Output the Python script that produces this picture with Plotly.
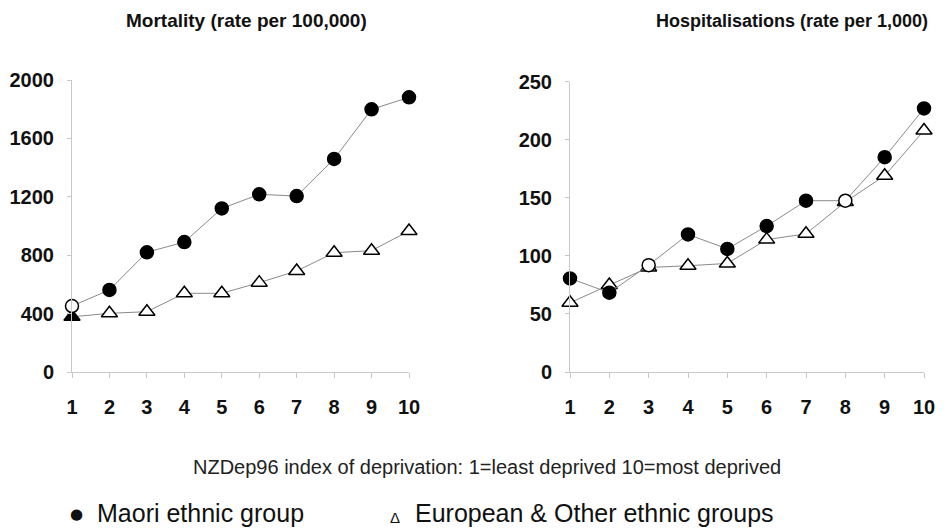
import plotly.graph_objects as go

deciles = [1, 2, 3, 4, 5, 6, 7, 8, 9, 10]
mort_maori = [452, 562, 820, 890, 1120, 1217, 1205, 1459, 1799, 1881]
mort_euro = [378, 402, 413, 539, 539, 612, 692, 817, 831, 966]
hosp_maori = [80.6, 68.3, 92, 118.5, 106, 125.7, 147.5, 147.5, 185, 227]
hosp_euro = [59.7, 74.9, 90, 91.5, 93.5, 114, 119, 146.5, 169, 208]
left_ticks = [0, 400, 800, 1200, 1600, 2000]
right_ticks = [0, 50, 100, 150, 200, 250]

# the page body has an 8px margin: the figure starts at (8, 8) in the window
OFF = 8
W, H = 947 - OFF, 530 - OFF


def px(sx):
    return (sx - OFF) / W


def py(sy):
    return 1 - (sy - OFF) / H


LINE = dict(color="#8a8a8a", width=1)
AX = "#c8c8c8"
TICKFONT = dict(family="Liberation Sans, Arial", size=20, color="#111", weight="bold")

fig = go.Figure()

# per-point marker styles (open circle / filled triangle where the source shows them)
mort_m_fill = ["white"] + ["black"] * 9
mort_e_fill = ["black"] + ["white"] * 9
hosp_m_fill = ["black", "black", "white", "black", "black", "black", "black", "white", "black", "black"]

fig.add_trace(go.Scatter(x=deciles, y=mort_euro, mode="lines+markers", line=LINE,
                         marker=dict(symbol="triangle-up", size=14, color=mort_e_fill,
                                     line=dict(color="black", width=1.5)),
                         cliponaxis=False, xaxis="x", yaxis="y", showlegend=False))
fig.add_trace(go.Scatter(x=deciles, y=mort_maori, mode="lines+markers", line=LINE,
                         marker=dict(symbol="circle", size=13, color=mort_m_fill,
                                     line=dict(color="black", width=1.5)),
                         cliponaxis=False, xaxis="x", yaxis="y", showlegend=False))
fig.add_trace(go.Scatter(x=deciles, y=hosp_euro, mode="lines+markers", line=LINE,
                         marker=dict(symbol="triangle-up", size=14, color="white",
                                     line=dict(color="black", width=1.5)),
                         cliponaxis=False, xaxis="x2", yaxis="y2", showlegend=False))
fig.add_trace(go.Scatter(x=deciles, y=hosp_maori, mode="lines+markers", line=LINE,
                         marker=dict(symbol="circle", size=13, color=hosp_m_fill,
                                     line=dict(color="black", width=1.5)),
                         cliponaxis=False, xaxis="x2", yaxis="y2", showlegend=False))

xcommon = dict(range=[1, 10], tickvals=deciles, showgrid=False, zeroline=False,
               showline=True, linecolor=AX, linewidth=1, ticks="outside", ticklen=5,
               tickcolor=AX, tickfont=TICKFONT, ticklabelstandoff=12, automargin=False)
ycommon = dict(showgrid=False, zeroline=False, showline=True, linecolor=AX, linewidth=1,
               ticks="outside", ticklen=4, tickcolor=AX, tickfont=TICKFONT,
               ticklabelstandoff=9, automargin=False)

TITLEFONT = dict(family="Liberation Sans, Arial", size=19, color="#111", weight="bold")
TITLEFONT_R = dict(family="Liberation Sans, Arial", size=18, color="#111", weight="bold")
SUBFONT = dict(family="Liberation Sans, Arial", size=20, color="#222")
LEGFONT = dict(family="Liberation Sans, Arial", size=25, color="#111")


def ann(text, sx, sy, font, xanchor="center"):
    return dict(text=text, x=px(sx), y=py(sy), xref="paper", yref="paper",
                xanchor=xanchor, yanchor="middle", showarrow=False, font=font)


fig.update_layout(
    width=W, height=H,
    margin=dict(l=0, r=0, t=0, b=0),
    paper_bgcolor="white", plot_bgcolor="white",
    xaxis=dict(domain=[px(72), px(409)], anchor="y", **xcommon),
    yaxis=dict(domain=[py(372), py(80)], range=[0, 2000], tickvals=left_ticks, anchor="x", **ycommon),
    xaxis2=dict(domain=[px(570), px(924)], anchor="y2", **xcommon),
    yaxis2=dict(domain=[py(372), py(81.7)], range=[0, 250], tickvals=right_ticks, anchor="x2", **ycommon),
    annotations=[
        ann("Mortality (rate per 100,000)", 246, 21, TITLEFONT),
        ann("Hospitalisations (rate per 1,000)", 792, 21, TITLEFONT_R),
        ann("NZDep96 index of deprivation: 1=least deprived 10=most deprived", 487, 467, SUBFONT),
        ann("\u25cf", 68, 514, dict(family="DejaVu Sans", size=15, color="#111"), "left"),
        ann("Maori ethnic group", 95, 513, LEGFONT, "left"),
        ann("\u0394", 388, 517, dict(family="Liberation Sans, Arial", size=15, color="#111"), "left"),
        ann("European & Other ethnic groups", 413, 513, LEGFONT, "left"),
    ],
)

fig.write_html("out.html")
